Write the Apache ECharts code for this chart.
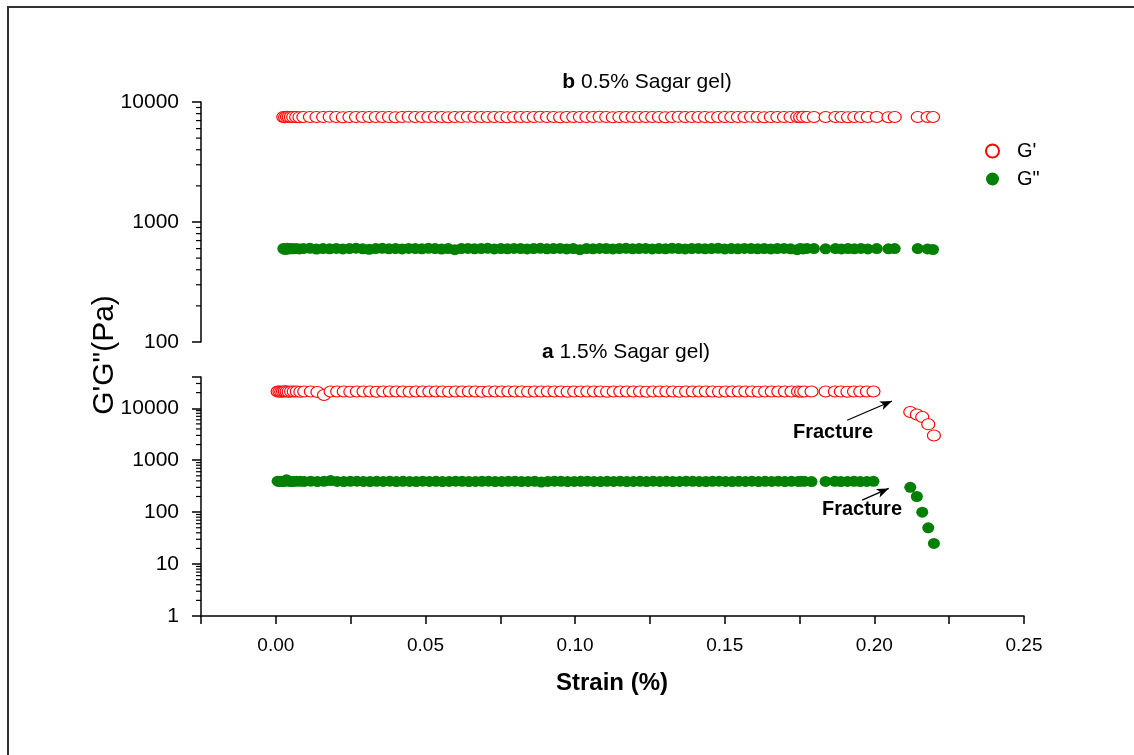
<!DOCTYPE html>
<html>
<head>
<meta charset="utf-8">
<script src="https://cdn.jsdelivr.net/npm/echarts@6/dist/echarts.min.js"></script>
<style>
html,body{margin:0;padding:0;background:#fff;}
#chart{width:1134px;height:755px;}
</style>
</head>
<body>
<div id="chart"></div>
<script>
// ---- panel b : 0.5% Sagar gel ----
const strainB = [
  0.0025, 0.0031, 0.0037, 0.0043, 0.0050, 0.0058, 0.0068, 0.0079,
  0.0092, 0.0114, 0.0136, 0.0158, 0.0180, 0.0202, 0.0224, 0.0246, 0.0268, 0.0290,
  0.0312, 0.0334, 0.0356, 0.0378, 0.0400, 0.0422, 0.0444, 0.0466, 0.0488, 0.0510,
  0.0532, 0.0554, 0.0576, 0.0598, 0.0620, 0.0642, 0.0664, 0.0686, 0.0708, 0.0730,
  0.0752, 0.0774, 0.0796, 0.0818, 0.0840, 0.0862, 0.0884, 0.0906, 0.0928, 0.0950,
  0.0972, 0.0994, 0.1016, 0.1038, 0.1060, 0.1082, 0.1104, 0.1126, 0.1148, 0.1170,
  0.1192, 0.1214, 0.1236, 0.1258, 0.1280, 0.1302, 0.1324, 0.1346, 0.1368, 0.1390,
  0.1412, 0.1434, 0.1456, 0.1478, 0.1500, 0.1522, 0.1544, 0.1566, 0.1588, 0.1610,
  0.1632, 0.1654, 0.1676, 0.1698, 0.1720,
  0.1742, 0.1752, 0.1762, 0.1775, 0.1798, 0.1837, 0.1870, 0.1890, 0.1912,
  0.1933, 0.1955, 0.1978, 0.2008, 0.2047, 0.2068, 0.2145, 0.2178, 0.2196
];
const gPrimeB = [
  7500, 7480, 7520, 7500, 7490, 7510, 7500, 7480,
  7500, 7510, 7490, 7500, 7520, 7500, 7480, 7500, 7510, 7500,
  7490, 7500, 7510, 7500, 7480, 7500, 7520, 7500, 7490, 7500,
  7510, 7500, 7480, 7500, 7500, 7520, 7490, 7500, 7510, 7500,
  7500, 7480, 7500, 7510, 7490, 7500, 7520, 7500, 7500, 7480,
  7500, 7510, 7500, 7490, 7500, 7520, 7500, 7480, 7500, 7510,
  7500, 7490, 7500, 7510, 7500, 7480, 7500, 7520, 7500, 7490,
  7510, 7500, 7480, 7500, 7500, 7510, 7490, 7500, 7520, 7500,
  7480, 7500, 7510, 7500, 7490,
  7500, 7480, 7520, 7500, 7500, 7490, 7510, 7500, 7480,
  7500, 7510, 7490, 7500, 7480, 7500, 7510, 7490, 7500
];
const gDoubleB = [
  600, 590, 605, 595, 600, 598, 602, 596,
  600, 604, 595, 600, 598, 602, 596, 600, 605, 598,
  592, 600, 603, 598, 600, 596, 602, 600, 598, 604,
  600, 595, 600, 588, 600, 602, 598, 600, 604, 597,
  600, 598, 602, 600, 596, 600, 603, 598, 600, 602,
  596, 600, 588, 600, 598, 602, 600, 596, 600, 604,
  598, 600, 602, 596, 600, 598, 603, 600, 596, 600,
  602, 598, 600, 604, 596, 600, 598, 602, 600, 598,
  600, 596, 600, 602, 598,
  588, 600, 596, 602, 600, 598, 600, 596, 600,
  598, 602, 596, 600, 598, 600, 600, 596, 590
];

// ---- panel a : 1.5% Sagar gel ----
const strainA = [
  0.0006, 0.0012, 0.0018, 0.0024, 0.0030, 0.0036, 0.0043, 0.0051, 0.0060, 0.0070, 0.0082,
  0.0095, 0.0117, 0.0139, 0.0161, 0.0183, 0.0205, 0.0227, 0.0249, 0.0271, 0.0293,
  0.0315, 0.0337, 0.0359, 0.0381, 0.0403, 0.0425, 0.0447, 0.0469, 0.0491, 0.0513,
  0.0535, 0.0557, 0.0579, 0.0601, 0.0623, 0.0645, 0.0667, 0.0689, 0.0711, 0.0733,
  0.0755, 0.0777, 0.0799, 0.0821, 0.0843, 0.0865, 0.0887, 0.0909, 0.0931, 0.0953,
  0.0975, 0.0997, 0.1019, 0.1041, 0.1063, 0.1085, 0.1107, 0.1129, 0.1151, 0.1173,
  0.1195, 0.1217, 0.1239, 0.1261, 0.1283, 0.1305, 0.1327, 0.1349, 0.1371, 0.1393,
  0.1415, 0.1437, 0.1459, 0.1481, 0.1503, 0.1525, 0.1547, 0.1569, 0.1591, 0.1613,
  0.1635, 0.1657, 0.1679, 0.1701, 0.1723,
  0.1745, 0.1755, 0.1766, 0.1790, 0.1837, 0.1868, 0.1888, 0.1910, 0.1932, 0.1953, 0.1975, 0.1997,
  0.2120, 0.2142, 0.2160, 0.2180, 0.2199
];
const gPrimeA = [
  21000, 21000, 20800, 21000, 21200, 21000, 20900, 21000, 21100, 21000, 20800,
  21000, 21000, 20600, 18000, 21000, 21100, 21000, 20900, 21000, 21000,
  21000, 20900, 21000, 21100, 21000, 21000, 20800, 21000, 21000, 21100,
  21000, 21000, 20900, 21000, 21000, 21100, 21000, 20900, 21000, 21000,
  21000, 21100, 21000, 21000, 20900, 21000, 21000, 21100, 21000, 21000,
  20900, 21000, 21000, 21100, 21000, 21000, 20900, 21000, 21000, 21100,
  21000, 21000, 20900, 21000, 21000, 21100, 21000, 20900, 21000, 21000,
  21100, 21000, 21000, 20900, 21000, 21000, 21100, 21000, 21000, 20900,
  21000, 21000, 21100, 21000, 21000,
  21000, 20900, 21000, 21000, 21100, 21000, 21000, 20900, 21000, 21000, 21100, 21000,
  8500, 7600, 6800, 4900, 3000
];
const gDoubleA = [
  395, 390, 392, 388, 395, 420, 392, 388, 390, 395, 392,
  390, 395, 388, 392, 405, 390, 388, 392, 395, 390,
  388, 392, 390, 395, 388, 392, 390, 388, 395, 390,
  392, 388, 390, 395, 392, 388, 390, 392, 395, 388,
  390, 392, 395, 388, 390, 392, 380, 390, 395, 392,
  388, 390, 392, 395, 390, 388, 392, 390, 395, 388,
  390, 392, 388, 395, 390, 392, 388, 390, 395, 392,
  390, 388, 392, 395, 390, 388, 392, 390, 395, 388,
  392, 390, 395, 388, 392,
  390, 395, 392, 388, 390, 392, 388, 390, 392, 388, 390, 392,
  300, 200, 100, 50, 25
];

// axis tick labels / decorations
const xTickLabels = ['0.00', '0.05', '0.10', '0.15', '0.20', '0.25'];
const minorTicksB = [200, 300, 400, 500, 600, 700, 800, 900, 2000, 3000, 4000, 5000, 6000, 7000, 8000, 9000];
const minorTicksA = [2, 3, 4, 5, 6, 7, 8, 9, 20, 30, 40, 50, 60, 70, 80, 90,
  200, 300, 400, 500, 600, 700, 800, 900, 2000, 3000, 4000, 5000, 6000, 7000, 8000, 9000,
  20000, 30000];
const arrowG1 = [[0.1909, 5880], [0.2059, 13800]];
const arrowG2 = [[0.1959, 170], [0.2048, 286]];

const FONT = 'Liberation Sans';
const RED = '#ff0000';
const GREEN = '#008000';

function pairs(xs, ys) { return xs.map((x, i) => [x, ys[i]]); }

const chart = echarts.init(document.getElementById('chart'), null, {renderer: 'canvas'});

function logLabel(v) {
  const l = Math.log10(v);
  return Math.abs(l - Math.round(l)) < 1e-6 ? String(Math.round(v)) : '';
}

const yAxisCommon = {
  type: 'log', logBase: 10,
  axisLine: {show: true, onZero: false, lineStyle: {color: '#000', width: 1.5}},
  axisTick: {show: true, length: 9, lineStyle: {color: '#000', width: 1.5}},
  splitLine: {show: false},
  axisLabel: {color: '#000', fontFamily: FONT, fontSize: 21, margin: 22, formatter: logLabel}
};

const minorTickSeries = (ticks, gi) => ({
  type: 'custom', xAxisIndex: gi, yAxisIndex: gi, silent: true, clip: false,
  data: ticks.map(v => [-0.025, v]),
  renderItem: function (params, api) {
    const p = api.coord([api.value(0), api.value(1)]);
    return {type: 'line', shape: {x1: p[0] - 5, y1: p[1], x2: p[0], y2: p[1]},
      style: {stroke: '#000', lineWidth: 1.2}};
  },
  z: 5
});

const option = {
  animation: false,
  backgroundColor: '#fff',
  grid: [
    {left: 201, top: 102, width: 823, height: 240},
    {left: 201, top: 377, width: 823, height: 239}
  ],
  xAxis: [
    {gridIndex: 0, type: 'value', min: -0.025, max: 0.25, show: false},
    {gridIndex: 1, type: 'value', min: -0.025, max: 0.25, interval: 0.025,
      axisLine: {show: true, onZero: false, lineStyle: {color: '#000', width: 1.5}},
      axisTick: {show: true, length: 8, lineStyle: {color: '#000', width: 1.5}},
      splitLine: {show: false},
      axisLabel: {color: '#000', fontFamily: FONT, fontSize: 19, margin: 20,
        formatter: function (v) {
          const k = Math.round(v * 1000);
          if (k < 0 || k % 50 !== 0) return '';
          return xTickLabels[k / 50];
        }}
    }
  ],
  yAxis: [
    Object.assign({gridIndex: 0, min: 100, max: 10000}, yAxisCommon),
    Object.assign({gridIndex: 1, min: 1, max: 40000}, yAxisCommon)
  ],
  legend: {
    orient: 'vertical', left: 980, top: 136, itemWidth: 15, itemHeight: 13, itemGap: 8,
    icon: 'circle',
    data: ["G'", 'G"'],
    textStyle: {fontFamily: FONT, fontSize: 20, color: '#000', padding: [0, 0, 0, 12]}
  },
  series: [
    {name: "G'", type: 'scatter', xAxisIndex: 0, yAxisIndex: 0, data: pairs(strainB, gPrimeB),
      symbol: 'circle', symbolSize: [13, 11],
      itemStyle: {color: '#fff', borderColor: RED, borderWidth: 1.1, opacity: 1}, z: 3},
    {name: 'G"', type: 'scatter', xAxisIndex: 0, yAxisIndex: 0, data: pairs(strainB, gDoubleB),
      symbol: 'circle', symbolSize: [12, 11],
      itemStyle: {color: GREEN, opacity: 1}, z: 3},
    {name: "G'", type: 'scatter', xAxisIndex: 1, yAxisIndex: 1, data: pairs(strainA, gPrimeA),
      symbol: 'circle', symbolSize: [13, 11],
      itemStyle: {color: '#fff', borderColor: RED, borderWidth: 1.1, opacity: 1}, z: 3,
      markLine: {silent: true, symbol: ['none', 'arrow'], symbolSize: [7, 12], animation: false,
        label: {show: false}, lineStyle: {color: '#000', width: 1.3, type: 'solid'},
        data: [[{coord: arrowG1[0]}, {coord: arrowG1[1]}]]}},
    {name: 'G"', type: 'scatter', xAxisIndex: 1, yAxisIndex: 1, data: pairs(strainA, gDoubleA),
      symbol: 'circle', symbolSize: [12, 11],
      itemStyle: {color: GREEN, opacity: 1}, z: 3,
      markLine: {silent: true, symbol: ['none', 'arrow'], symbolSize: [7, 12], animation: false,
        label: {show: false}, lineStyle: {color: '#000', width: 1.3, type: 'solid'},
        data: [[{coord: arrowG2[0]}, {coord: arrowG2[1]}]]}},
    minorTickSeries(minorTicksB, 0),
    minorTickSeries(minorTicksA, 1)
  ],
  graphic: [
    {type: 'rect', silent: true,
      shape: {x: 8, y: 7, width: 1200, height: 800}, style: {fill: 'none', stroke: '#333', lineWidth: 2}},
    {type: 'text', x: 647, y: 82, silent: true,
      style: {text: '{b|b} 0.5% Sagar gel)', fontFamily: FONT, fontSize: 21, fill: '#000',
        align: 'center', verticalAlign: 'middle',
        rich: {b: {fontWeight: 'bold', fontFamily: FONT, fontSize: 21, fill: '#000'}}}},
    {type: 'text', x: 626, y: 352, silent: true,
      style: {text: '{b|a} 1.5% Sagar gel)', fontFamily: FONT, fontSize: 21, fill: '#000',
        align: 'center', verticalAlign: 'middle',
        rich: {b: {fontWeight: 'bold', fontFamily: FONT, fontSize: 21, fill: '#000'}}}},
    {type: 'text', x: 833, y: 432, silent: true,
      style: {text: 'Fracture', fontFamily: FONT, fontWeight: 'bold', fontSize: 20, fill: '#000',
        align: 'center', verticalAlign: 'middle'}},
    {type: 'text', x: 862, y: 509, silent: true,
      style: {text: 'Fracture', fontFamily: FONT, fontWeight: 'bold', fontSize: 20, fill: '#000',
        align: 'center', verticalAlign: 'middle'}},
    {type: 'text', x: 612, y: 683, silent: true,
      style: {text: 'Strain (%)', fontFamily: FONT, fontWeight: 'bold', fontSize: 24, fill: '#000',
        align: 'center', verticalAlign: 'middle'}},
    {type: 'text', x: 105, y: 355, rotation: Math.PI / 2, silent: true,
      style: {text: 'G\'G"(Pa)', fontFamily: FONT, fontSize: 30, fill: '#000',
        align: 'center', verticalAlign: 'middle'}}
  ]
};
chart.setOption(option);
</script>
</body>
</html>
